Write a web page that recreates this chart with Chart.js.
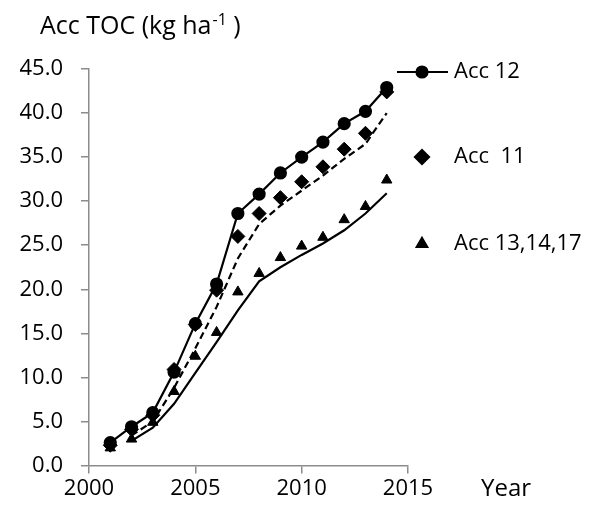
<!DOCTYPE html>
<html>
<head>
<meta charset="utf-8">
<script src="https://cdn.jsdelivr.net/npm/chart.js@4/dist/chart.umd.min.js"></script>
<style>
html,body{margin:0;padding:0;background:#fff;}
#wrap{position:relative;width:604px;height:511px;}
</style>
</head>
<body>
<div id="wrap"><canvas id="c" width="604" height="511"></canvas></div>
<script>
const years = [2001, 2002, 2003, 2004, 2005, 2006, 2007, 2008, 2009, 2010, 2011, 2012, 2013, 2014];
const acc12 = [2.6, 4.4, 6.0, 10.6, 16.1, 20.6, 28.6, 30.8, 33.2, 35.0, 36.7, 38.8, 40.2, 42.9];
const acc11 = [2.3, 4.1, 5.7, 10.9, 16.0, 19.9, 26.0, 28.6, 30.4, 32.2, 33.9, 35.9, 37.7, 42.4];
const acc11Trend = [null, 3.4, 5.0, 8.8, 13.3, 18.0, 23.5, 27.4, 29.5, 31.2, 32.9, 34.8, 36.5, 40.0];
const acc131417 = [2.0, 3.0, 4.9, 8.4, 12.4, 15.1, 19.7, 21.8, 23.6, 24.9, 25.9, 27.9, 29.4, 32.4];
const acc131417Trend = [null, 2.8, 4.3, 7.0, 10.5, 14.0, 17.6, 20.9, 22.5, 23.9, 25.2, 26.7, 28.6, 30.9];
const xTicks = [2000, 2005, 2010, 2015];
const yTicks = [0, 5, 10, 15, 20, 25, 30, 35, 40, 45];
const seriesLabels = ['Acc 12', 'Acc  11', 'Acc 13,14,17'];
const titleMain = 'Acc TOC (kg ha';
const titleSup = '-1';
const titleEnd = ' )';
const xTitle = 'Year';

const FONT = '"Open Sans", "Liberation Sans", sans-serif';
const AXIS = '#8c8c8c';

function pts(vals) {
  return years.map((y, i) => ({x: y, y: vals[i]})).filter(p => p.y !== null);
}

const overlay = {
  id: 'overlay',
  afterDraw(chart) {
    const ctx = chart.ctx;
    ctx.save();
    ctx.fillStyle = '#000';
    // title
    ctx.textBaseline = 'alphabetic';
    ctx.textAlign = 'left';
    ctx.font = '25px ' + FONT;
    let x = 40;
    ctx.fillText(titleMain, x, 34);
    x += ctx.measureText(titleMain).width + 1;
    ctx.font = '16px ' + FONT;
    ctx.fillText(titleSup, x, 25);
    x += ctx.measureText(titleSup).width;
    ctx.font = '25px ' + FONT;
    ctx.fillText(titleEnd, x, 34);
    // x axis title
    ctx.font = '24px ' + FONT;
    ctx.textBaseline = 'middle';
    ctx.fillText(xTitle, 481, 489);
    // legend
    const items = chart.data.datasets.filter(d => d.legendRow !== undefined);
    items.forEach(d => {
      const yy = [72, 157, 244][d.legendRow];
      const cx = 422;
      if (d.showLine !== false) {
        ctx.strokeStyle = '#000';
        ctx.lineWidth = 2.2;
        ctx.beginPath();
        ctx.moveTo(397, yy);
        ctx.lineTo(448, yy);
        ctx.stroke();
      }
      Chart.helpers.drawPoint(ctx, {
        pointStyle: d.pointStyle, radius: d.pointRadius, borderWidth: 1, rotation: 0
      }, cx, yy);
      ctx.font = '22px ' + FONT;
      ctx.textBaseline = 'middle';
      ctx.fillStyle = '#000';
      ctx.fillText(d.label, 454, yy);
    });
    ctx.restore();
  }
};

const common = {borderColor: '#000', backgroundColor: '#000', pointBorderColor: '#000', pointBackgroundColor: '#000'};

new Chart(document.getElementById('c'), {
  type: 'line',
  data: {
    datasets: [
      Object.assign({label: seriesLabels[0], data: pts(acc12), borderWidth: 2.2, pointStyle: 'circle', pointRadius: 5.5, legendRow: 0}, common),
      Object.assign({label: seriesLabels[1], data: pts(acc11), showLine: false, pointStyle: 'rectRot', pointRadius: 7, legendRow: 1}, common),
      Object.assign({label: '', data: pts(acc11Trend), borderWidth: 2.2, borderDash: [7, 4], pointRadius: 0}, common),
      Object.assign({label: seriesLabels[2], data: pts(acc131417), showLine: false, pointStyle: 'triangle', pointRadius: 6, legendRow: 2}, common),
      Object.assign({label: '', data: pts(acc131417Trend), borderWidth: 2.2, pointRadius: 0}, common)
    ]
  },
  options: {
    responsive: false,
    animation: false,
    devicePixelRatio: 1,
    layout: {padding: {left: 0, right: 196, top: 69, bottom: 0}},
    plugins: {legend: {display: false}, tooltip: {enabled: false}, title: {display: false}},
    scales: {
      x: {
        type: 'linear', min: 2000, max: 2015,
        afterBuildTicks(s) { s.ticks = xTicks.map(v => ({value: v})); },
        afterFit(s) { s.height = 45.5; },
        grid: {drawOnChartArea: false, drawTicks: true, tickLength: 8, color: AXIS, lineWidth: 1.5},
        border: {color: AXIS, width: 1.5},
        ticks: {color: '#000', font: {family: FONT, size: 22}, padding: 2, maxRotation: 0, callback: v => String(v)}
      },
      y: {
        min: 0, max: 45,
        afterBuildTicks(s) { s.ticks = yTicks.map(v => ({value: v})); },
        afterFit(s) { s.width = 89; },
        grid: {drawOnChartArea: false, drawTicks: true, tickLength: 8, color: AXIS, lineWidth: 1.5},
        border: {color: AXIS, width: 1.5},
        ticks: {color: '#000', font: {family: FONT, size: 22}, padding: 18, callback: v => v.toFixed(1)}
      }
    }
  },
  plugins: [overlay]
});
</script>
</body>
</html>
